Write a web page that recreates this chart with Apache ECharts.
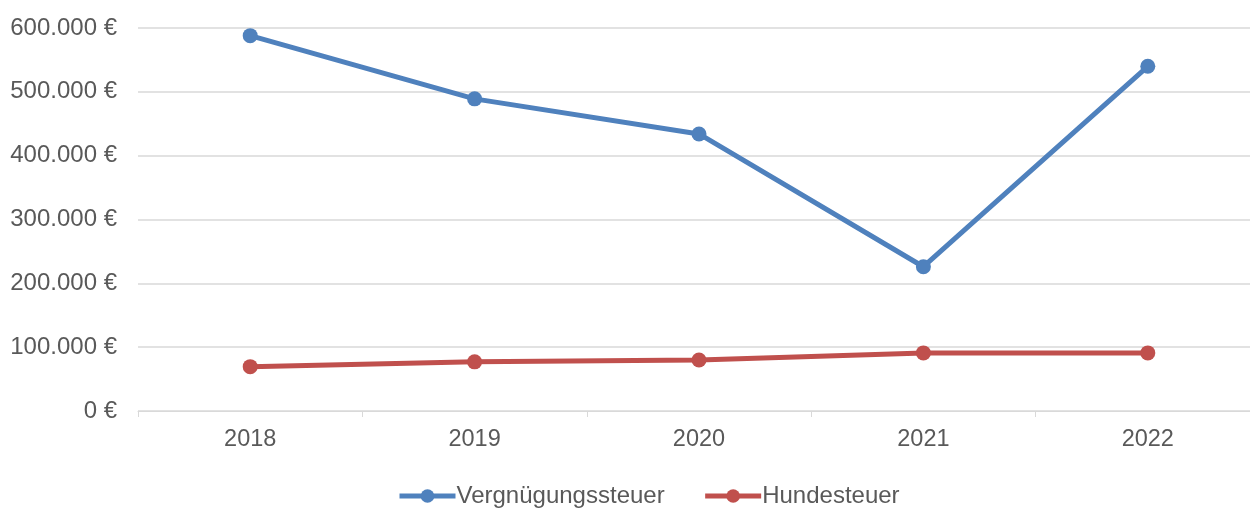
<!DOCTYPE html>
<html><head><meta charset="utf-8">
<script src="https://cdn.jsdelivr.net/npm/echarts@6/dist/echarts.min.js"></script>
<style>html,body{margin:0;padding:0;background:#fff}#c{width:1250px;height:509px}</style>
</head><body><div id="c"></div>
<script>
const categories = ['2018','2019','2020','2021','2022'];
const vergnuegung = [588000, 489000, 434000, 226000, 540000];
const hunde = [69500, 77000, 80000, 91000, 91000];
const seriesNames = ['Vergnügungssteuer','Hundesteuer'];
const yTicks = [0, 100000, 200000, 300000, 400000, 500000, 600000];

function fmt(v){ return String(v).replace(/\B(?=(\d{3})+(?!\d))/g,'.') + ' €'; }
const font = 'Liberation Sans, Arial, sans-serif';
const chart = echarts.init(document.getElementById('c'));
chart.setOption({
  animation:false,
  textStyle:{fontFamily:font},
  grid:{left:138,width:1122,top:28,bottom:98,containLabel:false,outerBoundsMode:'none'},
  legend:{bottom:-4,left:392,itemWidth:56,itemHeight:17,itemGap:38,
    lineStyle:{width:5},
    textStyle:{fontSize:24,color:'#595959',fontFamily:font,padding:[0,0,0,-4]},
    data:seriesNames},
  xAxis:{type:'category',data:categories,boundaryGap:true,
    axisLine:{lineStyle:{color:'#d9d9d9',width:1}},
    axisTick:{show:true,length:6,lineStyle:{color:'#d9d9d9'}},
    axisLabel:{color:'#595959',fontSize:23.5,margin:17,fontFamily:font}},
  yAxis:{type:'value',min:0,max:yTicks[yTicks.length-1],interval:100000,
    axisLine:{show:false},axisTick:{show:false},
    splitLine:{lineStyle:{color:'#d9d9d9',width:1.5}},
    axisLabel:{color:'#595959',fontSize:24,margin:21,fontFamily:font,formatter:fmt}},
  series:[
    {name:seriesNames[0],type:'line',data:vergnuegung,symbol:'circle',symbolSize:15,
     lineStyle:{width:5,color:'#4F81BD'},itemStyle:{color:'#4F81BD'}},
    {name:seriesNames[1],type:'line',data:hunde,symbol:'circle',symbolSize:15,
     lineStyle:{width:5,color:'#C0504D'},itemStyle:{color:'#C0504D'}}
  ]
});
</script></body></html>
